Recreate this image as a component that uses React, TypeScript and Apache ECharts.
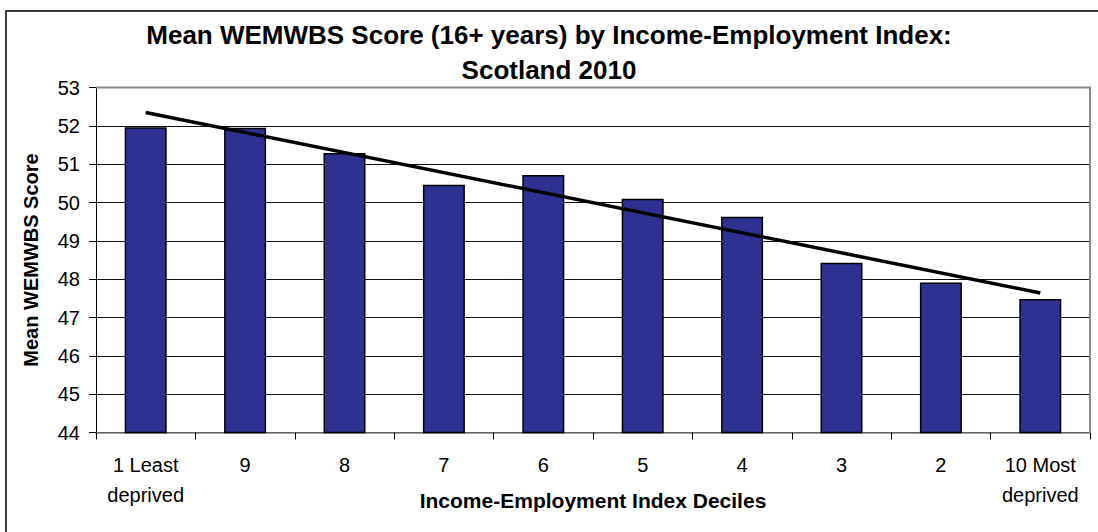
import React, { useEffect, useRef } from "react";
import * as echarts from "echarts";

const categories = ["1 Least\ndeprived", "9", "8", "7", "6", "5", "4", "3", "2", "10 Most\ndeprived"];
const meanScores = [51.96, 51.95, 51.29, 50.46, 50.72, 50.1, 49.63, 48.43, 47.91, 47.48];
// linear trend line endpoints (first and last category)
const trendStart = 52.35;
const trendEnd = 47.64;
const yTicks = [44, 53, 1]; // min, max, interval

const FONT = "'Liberation Sans', Arial, sans-serif";

export default function App() {
  const ref = useRef<HTMLDivElement>(null);
  useEffect(() => {
    if (!ref.current) return;
    const chart = echarts.init(ref.current, null, { renderer: "svg" });
    const gridLeft = 96;
    const gridTop = 87.5;
    const gridRight = 8;
    const gridBottom = 99.5;
    const W = 1098;
    const H = 532;
    chart.setOption({
      animation: false,
      backgroundColor: "#ffffff",
      textStyle: { fontFamily: FONT },
      title: {
        text: "Mean WEMWBS Score (16+ years) by Income-Employment Index:\nScotland 2010",
        left: "center",
        top: 17,
        padding: 0,
        textStyle: {
          fontFamily: FONT,
          fontSize: 26,
          fontWeight: "bold",
          color: "#000",
          lineHeight: 35,
        },
      },
      grid: {
        left: gridLeft,
        right: gridRight,
        top: gridTop,
        bottom: gridBottom,
        containLabel: false,
        outerBoundsMode: "none",
      },
      xAxis: {
        type: "category",
        data: categories,
        boundaryGap: true,
        name: "Income-Employment Index Deciles",
        nameLocation: "middle",
        nameGap: 57,
        nameMoveOverlap: false,
        nameTextStyle: {
          fontFamily: FONT,
          fontSize: 21,
          fontWeight: "bold",
          color: "#000",
        },
        axisLine: { show: true, lineStyle: { color: "#808080", width: 1.5 } },
        axisTick: { show: true, length: 7, alignWithLabel: false, lineStyle: { color: "#000" } },
        axisLabel: {
          fontFamily: FONT,
          fontSize: 20,
          color: "#000",
          lineHeight: 30,
          margin: 17,
          interval: 0,
        },
        splitLine: { show: false },
      },
      yAxis: {
        type: "value",
        min: yTicks[0],
        max: yTicks[1],
        interval: yTicks[2],
        name: "Mean WEMWBS Score",
        nameLocation: "middle",
        nameRotate: 90,
        nameGap: 55,
        nameMoveOverlap: false,
        nameTextStyle: {
          fontFamily: FONT,
          fontSize: 20,
          fontWeight: "bold",
          color: "#000",
        },
        axisLine: { show: true, lineStyle: { color: "#000", width: 1 } },
        axisTick: { show: true, length: 7, lineStyle: { color: "#000" } },
        axisLabel: { fontFamily: FONT, fontSize: 20, color: "#000", margin: 16 },
        splitLine: { show: true, lineStyle: { color: "#111", width: 1 } },
      },
      graphic: [
        {
          type: "rect",
          shape: { x: 6, y: 11, width: W + 20, height: H + 20 },
          style: { fill: "none", stroke: "#000", lineWidth: 1.5 },
          z: 100,
          silent: true,
        },
        {
          type: "polyline",
          shape: {
            points: [
              [gridLeft, gridTop],
              [W - gridRight, gridTop],
              [W - gridRight, H - gridBottom],
            ],
          },
          style: { fill: "none", stroke: "#8c8c8c", lineWidth: 2 },
          z: 100,
          silent: true,
        },
      ],
      series: [
        {
          type: "bar",
          data: meanScores,
          barWidth: 42,
          itemStyle: { color: "#2e3192", borderColor: "#000", borderWidth: 1.5 },
          z: 2,
        },
        {
          type: "line",
          data: [
            [0, trendStart],
            [categories.length - 1, trendEnd],
          ],
          symbol: "none",
          lineStyle: { color: "#000", width: 3.5 },
          z: 5,
        },
      ],
    });
    return () => chart.dispose();
  }, []);
  return (
    <div
      ref={ref}
      style={{ position: "fixed", left: 0, top: 0, width: 1098, height: 532, background: "#fff" }}
    />
  );
}
